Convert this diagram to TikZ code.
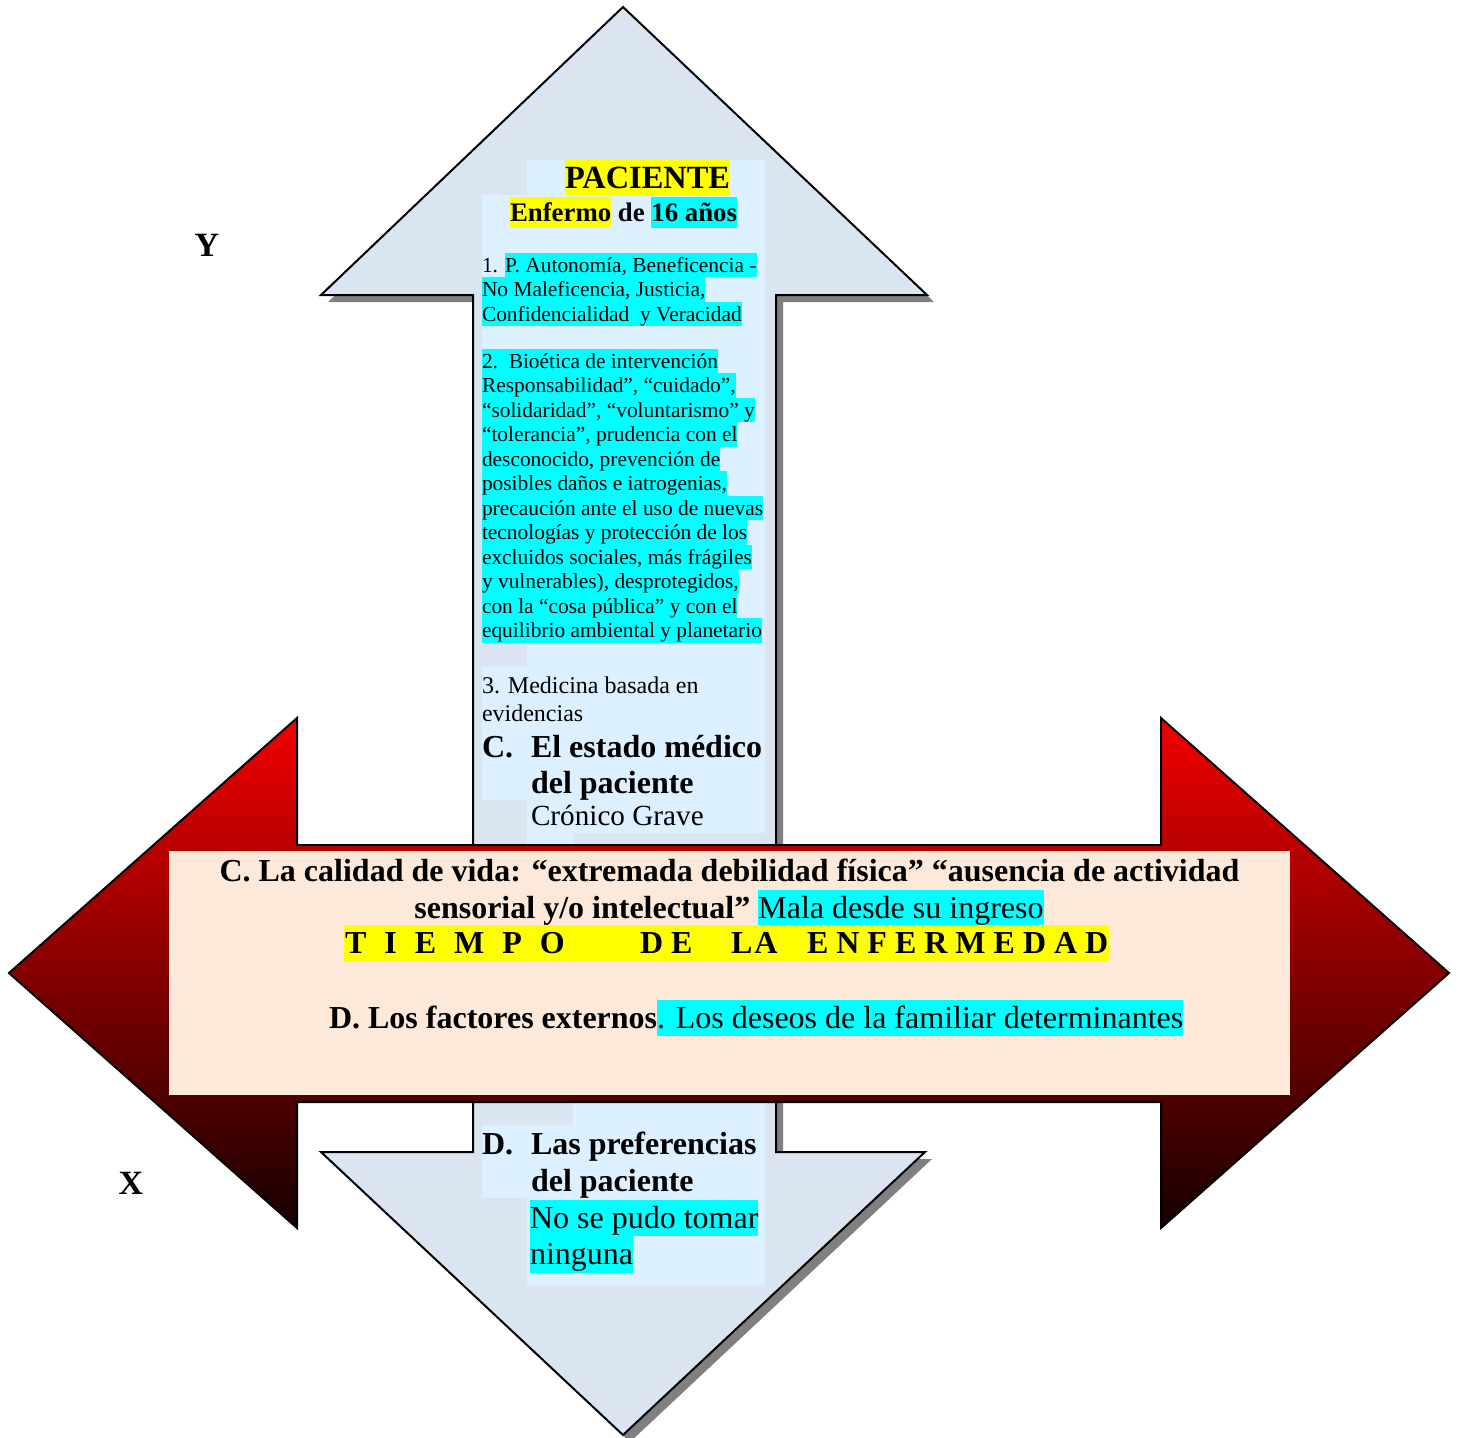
\documentclass[tikz,border=0pt]{standalone}
\usepackage{fontspec}
\setmainfont{Liberation Serif}
\definecolor{arrowfill}{RGB}{219,229,241}
\definecolor{panel}{RGB}{221,240,255}
\definecolor{peach}{RGB}{253,233,217}
\definecolor{shadowgray}{RGB}{128,128,128}
\definecolor{hlcyan}{RGB}{0,255,255}
\definecolor{hlyellow}{RGB}{255,255,0}
\definecolor{redtop}{RGB}{242,0,0}
\definecolor{redbottom}{RGB}{22,0,0}
% highlighted run of text, box as tall as one text line
\newcommand\hstrut{\vrule height .89em depth .25em width 0pt}
\newcommand\hl[2]{{\setlength{\fboxsep}{0pt}\colorbox{#1}{\hstrut#2}}}
\begin{document}
\begin{tikzpicture}[x=0.5pt,y=-0.5pt,
  txt/.style={inner sep=0pt, outer sep=0pt, anchor=base west},
  small/.style={txt, font=\fontsize{10.7}{12.25}\selectfont},
  medium/.style={txt, font=\fontsize{12}{13.5}\selectfont},
  head/.style={txt, font=\fontsize{16}{18}\selectfont\bfseries},
  plain/.style={txt, font=\fontsize{16}{18}\selectfont},
  axislabel/.style={inner sep=0pt, font=\fontsize{17}{19}\selectfont\bfseries},
  border/.style={draw=black, line width=1pt, line join=miter}]
\useasboundingbox (0,0) rectangle (1458,1437);

% vertical double arrow with its drop shadow
\begin{scope}[shift={(7,7)}]
\fill[shadowgray] (623,7) -- (927,295) -- (776,295) -- (776,1152) -- (925,1152)
  -- (623,1435) -- (321,1152) -- (473,1152) -- (473,295) -- (321,295) -- cycle;
\end{scope}
\filldraw[border, fill=arrowfill] (623,7) -- (927,295) -- (776,295) -- (776,1152) -- (925,1152)
  -- (623,1435) -- (321,1152) -- (473,1152) -- (473,295) -- (321,295) -- cycle;

% text panel inside the upper shaft
\fill[panel] (527,160) rectangle (765,195);
\fill[panel] (482,195) rectangle (765,643);
\fill[panel] (527,643) rectangle (765,667);
\fill[panel] (482,667) rectangle (765,800);
\fill[panel] (527,800) rectangle (765,833);
\fill[panel] (527,833) rectangle (573,846);
% text panel inside the lower shaft
\fill[panel] (573,1102) rectangle (765,1125);
\fill[panel] (482,1125) rectangle (765,1198);
\fill[panel] (527,1198) rectangle (765,1285);

% header
\node[txt, font=\fontsize{16.2}{18}\selectfont\bfseries] (pac) at (565,188) {\hl{hlyellow}{PACIENTE}};
\node[txt, font=\fontsize{13.4}{15.4}\selectfont\bfseries] (enf) at (510,221)
  {\hl{hlyellow}{Enfermo} de \hl{hlcyan}{16 años}};

% principles
\node[small] (p1a) at (482,272) {1. \hl{hlcyan}{P. Autonomía, Beneficencia -}};
\node[small] (p1b) at (482,296.5) {\hl{hlcyan}{No Maleficencia, Justicia,}};
\node[small] (p1c) at (482,321) {\hl{hlcyan}{Confidencialidad\ \ y Veracidad}};

\node[small] (b01) at (482,368) {\hl{hlcyan}{2.\ \ Bioética de intervención}};
\node[small] (b02) at (482,392.5) {\hl{hlcyan}{Responsabilidad”, “cuidado”,}};
\node[small] (b03) at (482,417) {\hl{hlcyan}{“solidaridad”, “voluntarismo” y}};
\node[small] (b04) at (482,441.5) {\hl{hlcyan}{“tolerancia”, prudencia con el}};
\node[small] (b05) at (482,466) {\hl{hlcyan}{desconocido, prevención de}};
\node[small] (b06) at (482,490.5) {\hl{hlcyan}{posibles daños e iatrogenias,}};
\node[small] (b07) at (482,515) {\hl{hlcyan}{precaución ante el uso de nuevas}};
\node[small] (b08) at (482,539.5) {\hl{hlcyan}{tecnologías y protección de los}};
\node[small] (b09) at (482,564) {\hl{hlcyan}{excluidos sociales, más frágiles}};
\node[small] (b10) at (482,588.5) {\hl{hlcyan}{y vulnerables), desprotegidos,}};
\node[small] (b11) at (482,613) {\hl{hlcyan}{con la “cosa pública” y con el}};
\node[small] (b12) at (482,637.5) {\hl{hlcyan}{equilibrio ambiental y planetario}};

\node[medium] (m1) at (482,693) {3. Medicina basada en};
\node[medium] (m2) at (482,721) {evidencias};

\node[head] (cl) at (482,757) {C.};
\node[head] (c1) at (531,757) {El estado médico};
\node[head] (c2) at (531,793) {del paciente};
\node[txt, font=\fontsize{14.6}{16.8}\selectfont] (c3) at (531,825) {Crónico Grave};

% lower shaft text
\node[head] (dl) at (482,1154) {D.};
\node[head] (d1) at (531,1154) {Las preferencias};
\node[head] (d2) at (531,1191) {del paciente};
\node[plain] (d3) at (530,1228) {\hl{hlcyan}{No se pudo tomar}};
\node[plain] (d4) at (530,1264.5) {\hl{hlcyan}{ninguna}};

% horizontal double arrow, red to black
\shadedraw[border, top color=redtop, bottom color=redbottom]
  (9,973) -- (297,718) -- (297,845) -- (1161,845) -- (1161,718) -- (1449,973)
  -- (1161,1228) -- (1161,1102) -- (297,1102) -- (297,1228) -- cycle;
\fill[peach] (169,851) rectangle (1290,1095);

% quality of life and external factors
\node[head, anchor=base] (q1) at (729.5,881)
  {C. La calidad de vida: “extremada debilidad física” “ausencia de actividad};
\node[head, anchor=base] (q2) at (729,918)
  {sensorial y/o intelectual” \hl{hlcyan}{\mdseries Mala desde su ingreso}};

\fill[hlyellow] (344,925) rectangle (1109,962);
\node[head] (t1) at (345,953)
  {T\hspace{9pt}I\hspace{9pt}E\hspace{9pt}M\hspace{9pt}P\hspace{9pt}O};
\node[head] (t2) at (640,953) {D\hspace{4pt}E};
\node[head] (t3) at (731,953) {L\hspace{1pt}A};
\node[head] (t4) at (807,953)
  {E\hspace{4pt}N\hspace{4pt}F\hspace{4pt}E\hspace{4pt}R\hspace{4pt}M\hspace{4pt}E\hspace{4pt}D\hspace{4pt}A\hspace{4pt}D};

\node[head] (ext) at (329,1028)
  {D. Los factores externos\hl{hlcyan}{\mdseries. Los deseos de la familiar determinantes}};

% axis letters
\node[axislabel] (ylab) at (207,245) {Y};
\node[axislabel] (xlab) at (131,1183) {X};
\end{tikzpicture}
\end{document}
